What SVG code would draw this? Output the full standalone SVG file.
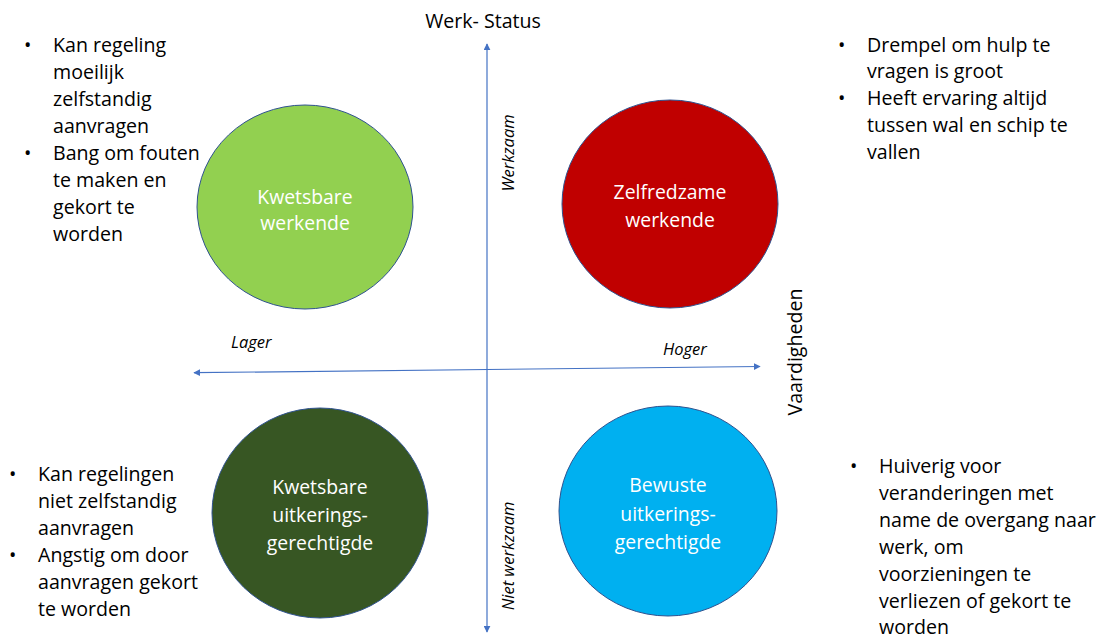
<svg xmlns="http://www.w3.org/2000/svg" width="1100" height="634" viewBox="0 0 1100 634">
  <style>
    .txt { font-family: "Open Sans", "Liberation Sans", sans-serif; font-size: 19.6px; fill: #000; }
    .lbl { font-family: "Open Sans", "Liberation Sans", sans-serif; font-size: 19.4px; fill: #fff; text-anchor: middle; }
    .ax { font-family: "Open Sans", "Liberation Sans", sans-serif; font-size: 16.5px; font-style: italic; fill: #000; }
    .axis { stroke: #4472C4; stroke-width: 1.2; fill: none; }
    .node { stroke: #2F528F; stroke-width: 1; }
  </style>
  <defs>
    <marker id="arrow" viewBox="0 0 10 10" refX="9" refY="5" markerWidth="7" markerHeight="7" orient="auto-start-reverse" markerUnits="userSpaceOnUse">
      <path d="M0,0 L10,5 L0,10 z" fill="#4472C4"/>
    </marker>
  </defs>

  <rect width="1100" height="634" fill="#fff"/>

  <!-- axes -->
  <g id="connectors">
    <line class="axis" x1="487" y1="632" x2="487" y2="44" marker-start="url(#arrow)" marker-end="url(#arrow)"/>
    <line class="axis" x1="194" y1="372.7" x2="760" y2="366.5" marker-start="url(#arrow)" marker-end="url(#arrow)"/>
  </g>

  <!-- axis labels -->
  <text class="txt" x="483" y="28" text-anchor="middle" font-size="20">Werk- Status</text>
  <text class="txt" transform="translate(802,352) rotate(-90)" text-anchor="middle" font-size="20.5">Vaardigheden</text>
  <text class="ax" x="231" y="348">Lager</text>
  <text class="ax" x="663" y="355">Hoger</text>
  <text class="ax" transform="translate(514,153) rotate(-90)" text-anchor="middle">Werkzaam</text>
  <text class="ax" transform="translate(514,556) rotate(-90)" text-anchor="middle">Niet werkzaam</text>

  <!-- quadrant nodes -->
  <g id="kwetsbare-werkende">
    <ellipse class="node" cx="305" cy="207" rx="108" ry="102" fill="#92D050"/>
    <text class="lbl" x="305" y="204">Kwetsbare</text>
    <text class="lbl" x="305" y="230">werkende</text>
  </g>
  <g id="zelfredzame-werkende">
    <ellipse class="node" cx="670" cy="204" rx="108" ry="104" fill="#C00000"/>
    <text class="lbl" x="670" y="199">Zelfredzame</text>
    <text class="lbl" x="670" y="227">werkende</text>
  </g>
  <g id="kwetsbare-uitkeringsgerechtigde">
    <ellipse class="node" cx="320" cy="513" rx="108" ry="105" fill="#375623"/>
    <text class="lbl" x="320" y="494">Kwetsbare</text>
    <text class="lbl" x="320" y="522">uitkerings-</text>
    <text class="lbl" x="320" y="550">gerechtigde</text>
  </g>
  <g id="bewuste-uitkeringsgerechtigde">
    <ellipse class="node" cx="668" cy="511" rx="109" ry="105" fill="#00B0F0"/>
    <text class="lbl" x="668" y="492">Bewuste</text>
    <text class="lbl" x="668" y="521">uitkerings-</text>
    <text class="lbl" x="668" y="549">gerechtigde</text>
  </g>

  <!-- notes: top left -->
  <g id="note-top-left">
    <text class="txt" x="24" y="52">•</text>
    <text class="txt" x="53" y="52">Kan regeling</text>
    <text class="txt" x="53" y="79">moeilijk</text>
    <text class="txt" x="53" y="106">zelfstandig</text>
    <text class="txt" x="53" y="133">aanvragen</text>
    <text class="txt" x="24" y="160">•</text>
    <text class="txt" x="53" y="160">Bang om fouten</text>
    <text class="txt" x="53" y="187">te maken en</text>
    <text class="txt" x="53" y="214">gekort te</text>
    <text class="txt" x="53" y="241">worden</text>
  </g>

  <!-- notes: top right -->
  <g id="note-top-right">
    <text class="txt" x="838" y="52">•</text>
    <text class="txt" x="867" y="52">Drempel om hulp te</text>
    <text class="txt" x="867" y="78">vragen is groot</text>
    <text class="txt" x="838" y="105">•</text>
    <text class="txt" x="867" y="105">Heeft ervaring altijd</text>
    <text class="txt" x="867" y="132">tussen wal en schip te</text>
    <text class="txt" x="867" y="159">vallen</text>
  </g>

  <!-- notes: bottom left -->
  <g id="note-bottom-left">
    <text class="txt" x="9" y="481">•</text>
    <text class="txt" x="38" y="481">Kan regelingen</text>
    <text class="txt" x="38" y="508">niet zelfstandig</text>
    <text class="txt" x="38" y="535">aanvragen</text>
    <text class="txt" x="9" y="562">•</text>
    <text class="txt" x="38" y="562">Angstig om door</text>
    <text class="txt" x="38" y="589">aanvragen gekort</text>
    <text class="txt" x="38" y="616">te worden</text>
  </g>

  <!-- notes: bottom right -->
  <g id="note-bottom-right">
    <text class="txt" x="850" y="473">•</text>
    <text class="txt" x="879" y="473">Huiverig voor</text>
    <text class="txt" x="879" y="500">veranderingen met</text>
    <text class="txt" x="879" y="527">name de overgang naar</text>
    <text class="txt" x="879" y="554">werk, om</text>
    <text class="txt" x="879" y="581">voorzieningen te</text>
    <text class="txt" x="879" y="608">verliezen of gekort te</text>
    <text class="txt" x="879" y="634">worden</text>
  </g>
</svg>
